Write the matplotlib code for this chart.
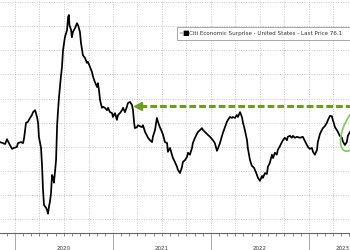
import matplotlib
matplotlib.use("Agg")
import matplotlib.pyplot as plt
import matplotlib.dates as mdates
from matplotlib.patches import Ellipse, Rectangle
import pandas as pd

# Citi Economic Surprise Index - United States
dates = [
    "2019-11-06", "2019-11-17", "2019-11-25", "2019-12-02", "2019-12-13", "2019-12-21", "2019-12-28",
    "2020-01-08", "2020-01-12", "2020-01-23", "2020-01-31", "2020-02-04", "2020-02-11", "2020-02-18",
    "2020-02-26", "2020-03-04", "2020-03-08", "2020-03-16", "2020-03-19", "2020-03-23", "2020-03-27",
    "2020-03-30", "2020-04-07", "2020-04-11", "2020-04-14", "2020-04-18", "2020-04-26", "2020-04-29",
    "2020-05-03", "2020-05-07", "2020-05-10", "2020-05-14", "2020-05-18", "2020-05-22", "2020-05-25",
    "2020-05-29", "2020-06-02", "2020-06-06", "2020-06-09", "2020-06-13", "2020-06-20", "2020-06-24",
    "2020-06-28", "2020-07-05", "2020-07-13", "2020-07-17", "2020-07-20", "2020-07-22", "2020-07-28",
    "2020-07-31", "2020-08-04", "2020-08-12", "2020-08-19", "2020-08-23", "2020-08-30", "2020-09-03",
    "2020-09-10", "2020-09-18", "2020-09-25", "2020-09-29", "2020-10-07", "2020-10-14", "2020-10-18",
    "2020-10-25", "2020-11-02", "2020-11-05", "2020-11-09", "2020-11-13", "2020-11-20", "2020-11-24",
    "2020-12-01", "2020-12-09", "2020-12-13", "2020-12-20", "2020-12-28", "2020-12-31",
    "2021-01-08", "2021-01-15", "2021-01-19", "2021-01-26", "2021-02-03", "2021-02-07", "2021-02-14",
    "2021-02-21", "2021-02-25", "2021-03-05", "2021-03-12", "2021-03-16", "2021-03-20", "2021-03-23",
    "2021-03-31", "2021-04-03", "2021-04-18", "2021-04-22", "2021-04-30", "2021-05-11", "2021-05-18",
    "2021-05-26", "2021-05-29", "2021-06-06", "2021-06-13", "2021-06-17", "2021-06-24", "2021-07-02",
    "2021-07-06", "2021-07-13", "2021-07-21", "2021-07-24", "2021-08-01", "2021-08-08", "2021-08-12",
    "2021-08-19", "2021-08-27", "2021-08-30", "2021-09-07", "2021-09-14", "2021-09-18", "2021-09-26",
    "2021-10-03", "2021-10-07", "2021-10-14", "2021-10-22", "2021-10-25", "2021-11-02", "2021-11-13",
    "2021-11-21", "2021-11-28", "2021-12-02", "2021-12-09", "2021-12-20", "2021-12-28",
    "2022-01-08", "2022-01-15", "2022-01-23", "2022-01-26", "2022-02-03", "2022-02-11", "2022-02-14",
    "2022-02-22", "2022-03-01", "2022-03-05", "2022-03-12", "2022-03-20", "2022-03-23", "2022-03-31",
    "2022-04-07", "2022-04-11", "2022-04-19", "2022-04-26", "2022-04-30", "2022-05-07", "2022-05-15",
    "2022-05-18", "2022-05-26", "2022-06-02", "2022-06-10", "2022-06-17", "2022-06-25", "2022-07-02",
    "2022-07-10", "2022-07-13", "2022-07-21", "2022-07-28", "2022-08-01", "2022-08-08", "2022-08-16",
    "2022-08-20", "2022-08-27", "2022-09-03", "2022-09-07", "2022-09-15", "2022-09-22", "2022-09-26",
    "2022-10-03", "2022-10-11", "2022-10-14", "2022-10-22", "2022-10-29", "2022-11-02", "2022-11-10",
    "2022-11-17", "2022-11-28", "2022-12-09", "2022-12-17", "2022-12-24", "2022-12-28",
    "2023-01-04", "2023-01-12", "2023-01-16", "2023-01-23", "2023-01-31", "2023-02-03", "2023-02-11",
    "2023-02-18", "2023-02-22", "2023-03-01", "2023-03-09", "2023-03-13", "2023-03-20", "2023-03-27",
    "2023-03-31", "2023-04-08", "2023-04-15", "2023-04-19", "2023-04-26", "2023-05-04", "2023-05-07",
    "2023-05-15", "2023-05-22", "2023-05-26", "2023-06-03",
]
values = [
    10, 8, 6, 16, 4, -4, -2,
    0, 8, 10, 8, 19, 50, 52,
    60, 66, 72, 76, 70, 62, 50,
    21, -2, -41, -85, -120, -126, -130,
    -138, -122, -114, -97, -58, -64, -74,
    -52, -27, 45, 72, 103, 145, 165,
    200, 227, 242, 269, 273, 252, 242,
    227, 238, 246, 256, 252, 238, 215,
    190, 184, 174, 176, 165, 155, 145,
    134, 124, 132, 118, 97, 81, 83,
    81, 76, 81, 72, 70, 62,
    70, 56, 66, 70, 76, 81, 72,
    83, 91, 93, 87, 76, 50, 39,
    41, 45, 41, 45, 31, 19, 14,
    10, 21, 35, 60, 52, 41, 31,
    25, 10, 8, -10, -2, -16, -23,
    -31, -41, -47, -54, -43, -31, -27,
    -21, -12, -16, -2, 8, 19, 31,
    35, 39, 35, 31, 25, 21,
    14, 8, -8, -4, 8, 23, 29,
    41, 52, 56, 62, 60, 62, 60,
    66, 62, 72, 62, 50, 35, 14,
    -2, -27, -39, -43, -52, -64, -70,
    -60, -64, -54, -56, -41, -33, -16,
    -23, -12, -16, -6, 2, 10, 14,
    19, 14, 21, 23, 19, 23, 19,
    21, 19, 21, 12, 4, 0,
    -4, -2, -10, -16, -6, 10, 27,
    35, 39, 43, 50, 56, 64, 64,
    56, 41, 35, 31, 23, 19, 12,
    4, 10, 23, 31,
]
year_labels = ["2020", "2021", "2022", "2023"]
legend_text = "Citi Economic Surprise - United States - Last Price 76.1"
arrow_level = 85
arrow_tip = "2021-04-02"

dts = pd.to_datetime(dates)

fig = plt.figure(figsize=(3.5, 2.5), dpi=100)
ax = fig.add_axes([0, 17 / 250, 1, 233 / 250])

ax.plot(dts, values, color="black", lw=1.25, zorder=3)

# dashed arrow pointing back to the 2021 level
green = "#6f9a24"
ax.plot([pd.Timestamp("2021-04-10"), pd.Timestamp("2023-07-01")], [arrow_level, arrow_level],
        color=green, lw=2.2, dashes=(2.2, 1.0), zorder=4)
ax.plot([pd.Timestamp(arrow_tip)], [arrow_level], marker="<", ms=5.5, color=green,
        mec=green, zorder=4)

ax.set_xlim(pd.Timestamp("2019-11-06"), pd.Timestamp("2023-06-03"))
ax.set_ylim(-178, 304)

ax.xaxis.set_major_locator(mdates.YearLocator())
ax.xaxis.set_minor_locator(mdates.MonthLocator())
ax.xaxis.set_major_formatter(plt.NullFormatter())
ax.tick_params(axis="x", which="major", length=12, width=0.6, color="#9a9a9a")
ax.tick_params(axis="x", which="minor", length=2.5, width=0.5, color="#555555")
ax.set_yticks(range(-150, 301, 50))
ax.tick_params(axis="y", left=False, labelleft=False)

# dotted grid: quarterly verticals, every 50 horizontally
for q in pd.date_range("2020-01-01", "2023-06-01", freq="QS"):
    ax.axvline(q, color="#c4c4c4", lw=0.7, ls=(0, (1, 1.5)), zorder=1)
ax.grid(axis="y", color="#c4c4c4", lw=0.7, ls=(0, (1, 1.5)), zorder=1)

for s in ["top", "left", "right"]:
    ax.spines[s].set_visible(False)
ax.spines["bottom"].set_color("#666666")
ax.spines["bottom"].set_linewidth(0.8)

xt = ax.get_xaxis_transform()
for lab in year_labels[:-1]:
    ax.text(pd.Timestamp(f"{lab}-07-01"), -0.065, lab, transform=xt,
            ha="center", va="center", fontsize=4, color="#333333", clip_on=False)
# last year label sits at the cropped right edge
ax.text(1.0, -0.065, year_labels[-1], transform=ax.transAxes,
        ha="right", va="center", fontsize=4, color="#333333", clip_on=False)

# legend box running off the right edge
fig.add_artist(Rectangle((177 / 350, 1 - 40 / 250), 180 / 350, 13 / 250,
                         transform=fig.transFigure, fc="white", ec="#999999", lw=0.6))
fig.text(178.5 / 350, 1 - 33.5 / 250, "=", fontsize=4, color="#888888", va="center", ha="left")
fig.text(182 / 350, 1 - 33.5 / 250, "\u25A0", fontsize=5, color="black", va="center", ha="left")
fig.text(189 / 350, 1 - 33.5 / 250, legend_text, fontsize=4.1, color="#333333",
         va="center", ha="left")

# hand-drawn style highlight around the latest move
fig.add_artist(Ellipse((3.55, 1.22), 0.22, 0.5, angle=-25, transform=fig.dpi_scale_trans,
                       fill=False, ec="#7ccb5c", lw=1.2))

plt.savefig("out.png", dpi=100)
